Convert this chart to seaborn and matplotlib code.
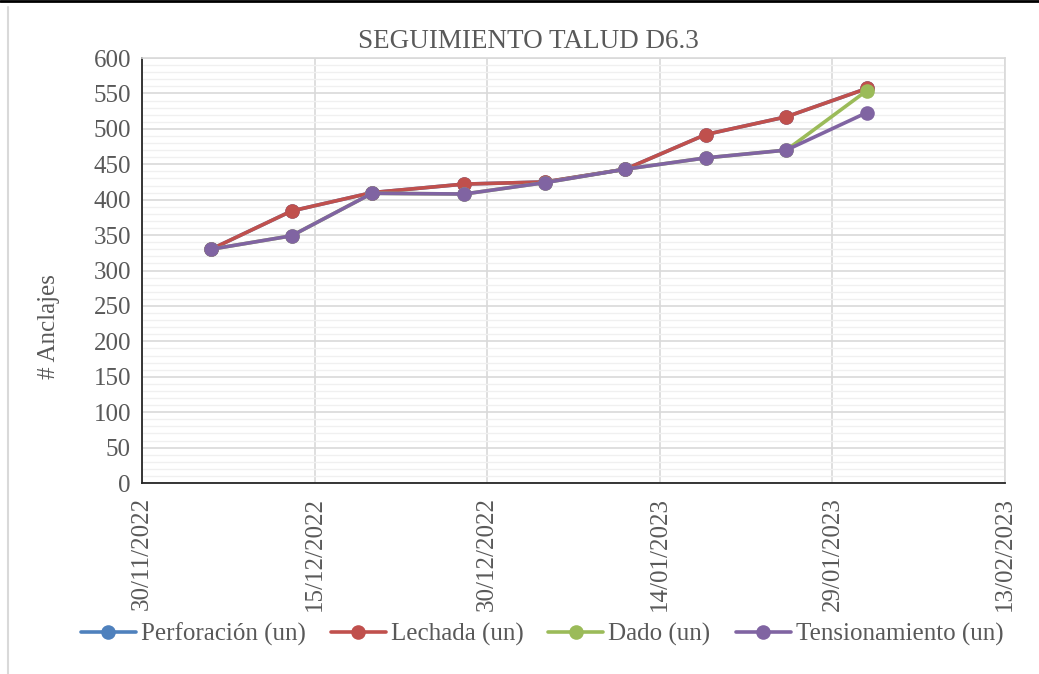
import pandas as pd
import numpy as np
import matplotlib
matplotlib.use("Agg")
import matplotlib.pyplot as plt
import matplotlib.dates as mdates
from matplotlib.ticker import MultipleLocator
import seaborn as sns

# Data
fechas = ["2022-12-06", "2022-12-13", "2022-12-20", "2022-12-28", "2023-01-04",
          "2023-01-11", "2023-01-18", "2023-01-25", "2023-02-01"]
perforacion = [330, 384, 410, 422, 425, 443, 492, 517, 557]
lechada = [330, 384, 410, 422, 425, 443, 492, 517, 557]
dado = [330, 349, 409, 408, 424, 443, 459, 470, 554]
tensionamiento = [330, 349, 409, 408, 424, 443, 459, 470, 523]

series = ["Perforación (un)", "Lechada (un)", "Dado (un)", "Tensionamiento (un)"]
colores = ["#4F81BD", "#C0504D", "#9BBB59", "#8064A2"]

x_ticks = pd.date_range("2022-11-30", "2023-02-13", freq="15D")


def build_frame():
    rows = []
    for nombre, vals in zip(series, [perforacion, lechada, dado, tensionamiento]):
        for f, v in zip(fechas, vals):
            rows.append({"fecha": pd.Timestamp(f), "valor": v, "serie": nombre})
    return pd.DataFrame(rows)


def main():
    df = build_frame()

    sns.set_style("white")
    plt.rcParams["font.family"] = ["Liberation Serif", "DejaVu Serif"]
    text_color = "#595959"
    fs = 18

    fig = plt.figure(figsize=(10.39, 6.74), dpi=100)
    ax = fig.add_axes([142 / 1039, 1 - 483 / 674, (1005 - 142) / 1039, (483 - 58) / 674])

    sns.lineplot(
        data=df, x="fecha", y="valor", hue="serie", hue_order=series,
        palette=colores, marker="o", markersize=10.5, markeredgewidth=0,
        linewidth=2.6, ax=ax, legend=False, sort=False,
    )

    # axis limits and ticks
    ax.set_xlim(x_ticks[0], x_ticks[-1])
    ax.set_ylim(0, 600)
    ax.set_xticks(x_ticks)
    ax.xaxis.set_major_formatter(mdates.DateFormatter("%d/%m/%Y"))
    ax.yaxis.set_major_locator(MultipleLocator(50))
    ax.yaxis.set_minor_locator(MultipleLocator(10))

    ax.grid(which="major", axis="both", color="#D9D9D9", linewidth=1.2)
    ax.grid(which="minor", axis="y", color="#F0F0F0", linewidth=1.0)
    ax.set_axisbelow(True)

    for s in ["top", "right"]:
        ax.spines[s].set_color("#D9D9D9")
        ax.spines[s].set_linewidth(1.2)
    for s in ["left", "bottom"]:
        ax.spines[s].set_color("#262626")
        ax.spines[s].set_linewidth(1.3)

    ax.tick_params(axis="y", which="both", length=0, labelsize=fs, colors=text_color, pad=8)
    ax.tick_params(axis="x", which="both", length=0, labelsize=fs, colors=text_color, pad=10)
    for lab in ax.get_xticklabels():
        lab.set_rotation(90)
        lab.set_ha("center")
        lab.set_va("top")

    ax.set_xlabel("")
    ax.set_ylabel("# Anclajes", fontsize=fs, color=text_color)
    ax.yaxis.set_label_coords((60 - 142) / 863, (483 - 327) / 425)

    fig.text(528 / 1039, 1 - 42 / 674, "SEGUIMIENTO TALUD D6.3", ha="center", va="center",
             fontsize=19.5, color=text_color)

    handles = [plt.Line2D([], [], color=c, linewidth=2.6, marker="o", markersize=10.5,
                          markeredgewidth=0) for c in colores]
    fig.legend(handles, series, loc="center", bbox_to_anchor=(542 / 1039, 1 - 634 / 674),
               ncol=4, frameon=False, fontsize=fs, labelcolor=text_color,
               handlelength=2.2, handletextpad=0.2, columnspacing=1.0)

    # chart frame borders from the original screenshot
    fig.add_artist(plt.Line2D([0, 1], [0.998, 0.998], color="black", linewidth=2,
                              transform=fig.transFigure))
    fig.add_artist(plt.Line2D([8 / 1039, 8 / 1039], [0, 0.99], color="#D9D9D9", linewidth=1.5,
                              transform=fig.transFigure))

    plt.savefig("out.png", dpi=100)
    plt.close()


if __name__ == "__main__":
    main()
